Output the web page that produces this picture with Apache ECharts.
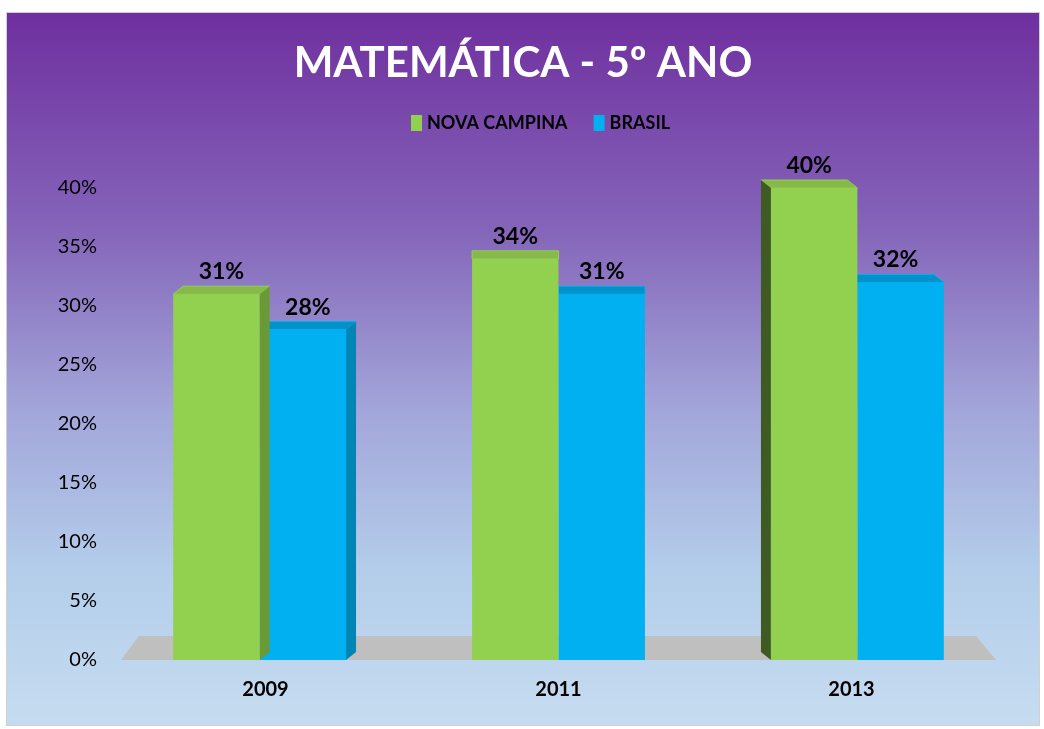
<!DOCTYPE html>
<html lang="pt">
<head>
    <meta charset="UTF-8">
    <title>Matemática - 5º ano</title>
    <script src="https://cdn.jsdelivr.net/npm/echarts@6.0.0/dist/echarts.min.js"></script>
    <style>
      body { margin: 0; background: #fff; }
      #main { position: absolute; left: 6px; top: 12px; width: 1034px; height: 714px;
              border: 1px solid #d0d0d0; box-sizing: border-box; }
    </style>
</head>
<body>

    <div id="main"></div>

    <script type="text/javascript">

      // data
      var anos = ['2009', '2011', '2013']
      var novaCampina = [31, 34, 40]
      var brasil = [28, 31, 32]
      var yTicks = [0, 5, 10, 15, 20, 25, 30, 35, 40]

      var faces = [
        { front: '#92d050', top: '#86b84a', side: '#6a9a38', left: '#3f5a22' },
        { front: '#00b0f0', top: '#0092c8', side: '#0085b5', left: '#006a92' }
      ]

      // fake 3d column: front, top and visible side face
      function bar3d(which) {
        return function (params, api) {
          var cat = api.value(0)
          var val = api.value(1)
          var base = api.coord([cat, 0])
          var top = api.coord([cat, val])
          var catW = api.size([1, 0])[0]
          var bw = catW * 0.295
          var cs = params.coordSys
          var mid = cs.x + cs.width / 2
          var dx = (mid - base[0]) * 0.034
          var dy = -8
          var shift = (base[0] - mid) * 0.02
          var x0 = base[0] + shift + (which === 0 ? -bw : 0)
          var x1 = x0 + bw
          var y0 = base[1]
          var y1 = top[1]
          var c = faces[which]
          var kids = []
          kids.push({
            type: 'polygon',
            shape: { points: [[x0, y1], [x1, y1], [x1 + dx, y1 + dy], [x0 + dx, y1 + dy]] },
            style: { fill: c.top, stroke: c.front, lineWidth: 1 }
          })
          if (dx > 0.5) {
            kids.push({
              type: 'polygon',
              shape: { points: [[x1, y1], [x1 + dx, y1 + dy], [x1 + dx, y0 + dy], [x1, y0]] },
              style: { fill: c.side }
            })
          } else if (dx < -0.5 && which === 0) {
            kids.push({
              type: 'polygon',
              shape: { points: [[x0, y1], [x0 + dx, y1 + dy], [x0 + dx, y0 + dy], [x0, y0]] },
              style: { fill: c.left }
            })
          }
          kids.push({
            type: 'rect',
            shape: { x: x0, y: y1, width: bw, height: y0 - y1 },
            style: { fill: c.front }
          })
          kids.push({
            type: 'text',
            x: (x0 + x1) / 2 + dx / 2,
            y: y1 + dy - 3,
            style: {
              text: val + '%',
              fill: '#000',
              font: 'bold 23px Lato',
              align: 'center',
              verticalAlign: 'bottom'
            }
          })
          return { type: 'group', children: kids }
        }
      }

      function floor(params, api) {
        var cs = params.coordSys
        var yb = cs.y + cs.height
        return {
          type: 'polygon',
          shape: { points: [[cs.x + 2, yb], [cs.x + cs.width - 2, yb],
                            [cs.x + cs.width - 22, yb - 24], [cs.x + 20, yb - 24]] },
          style: { fill: '#bfbfbf' }
        }
      }

      var myChart = echarts.init(document.getElementById('main'))

      var option = {
        backgroundColor: {
          type: 'linear', x: 0, y: 0, x2: 0, y2: 1,
          colorStops: [
            { offset: 0, color: '#6f2f9f' },
            { offset: 0.3, color: '#8464b9' },
            { offset: 0.55, color: '#a2a4d9' },
            { offset: 0.78, color: '#b3cdea' },
            { offset: 1, color: '#c6dcf0' }
          ]
        },
        animation: false,
        title: {
          text: 'MATEMÁTICA - 5º ANO',
          left: 'center',
          top: 24,
          textStyle: { color: '#fff', fontFamily: 'Lato', fontWeight: 'bold', fontSize: 42 }
        },
        legend: {
          top: 96,
          left: 399,
          icon: 'rect',
          itemWidth: 11,
          itemHeight: 16,
          itemGap: 26,
          textStyle: { color: '#000', fontFamily: 'Lato', fontWeight: 'bold', fontSize: 18 },
          data: ['NOVA CAMPINA', 'BRASIL']
        },
        grid: { left: 112, width: 879, top: 175, bottom: 65 },
        xAxis: {
          type: 'category',
          data: anos,
          axisLine: { show: false },
          axisTick: { show: false },
          axisLabel: { margin: 20, color: '#000', fontFamily: 'Lato', fontWeight: 'bold', fontSize: 20 }
        },
        yAxis: {
          type: 'value',
          min: yTicks[0],
          max: yTicks[yTicks.length - 1],
          interval: 5,
          splitLine: { show: false },
          axisLine: { show: false },
          axisLabel: { margin: 22, color: '#000', fontFamily: 'Lato', fontSize: 20, formatter: '{value}%' }
        },
        series: [
          {
            name: 'floor', type: 'custom', renderItem: floor, data: [[0, 0]],
            silent: true, z: 1
          },
          {
            name: 'NOVA CAMPINA', type: 'custom', renderItem: bar3d(0),
            itemStyle: { color: faces[0].front }, z: 3,
            data: novaCampina.map(function (v, i) { return [i, v] })
          },
          {
            name: 'BRASIL', type: 'custom', renderItem: bar3d(1),
            itemStyle: { color: faces[1].front }, z: 2,
            data: brasil.map(function (v, i) { return [i, v] })
          }
        ]
      }

      myChart.setOption(option)

    </script>
  </body>
</html>
